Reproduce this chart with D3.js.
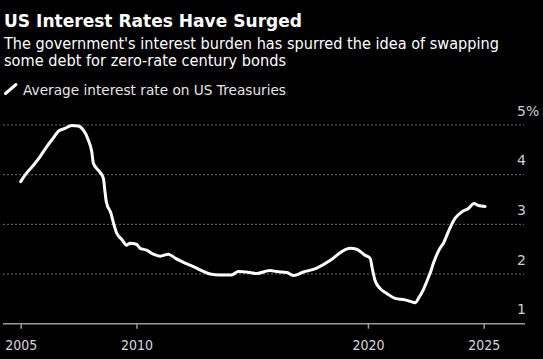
<!DOCTYPE html>
<html>
<head>
<meta charset="utf-8">
<script src="https://cdn.jsdelivr.net/npm/d3@7"></script>
<style>
  html, body { margin: 0; padding: 0; background: #000; }
  svg { display: block; }
  text { font-family: "DejaVu Sans", Verdana, sans-serif; }
</style>
</head>
<body>
<svg id="chart" width="543" height="359"></svg>
<script>
const title = "US Interest Rates Have Surged";
const subtitleLines = ["The government's interest burden has spurred the idea of swapping",
                       "some debt for zero-rate century bonds"];
const legendLabel = "Average interest rate on US Treasuries";

const years = [2005.0, 2005.25, 2005.55, 2005.83, 2006.12, 2006.41, 2006.62, 2006.91, 2007.2, 2007.49,
  2007.7, 2007.92, 2008.07, 2008.14, 2008.35, 2008.57, 2008.64, 2008.7, 2008.9, 2009.03,
  2009.15, 2009.36, 2009.58, 2009.72, 2010.0, 2010.15, 2010.44, 2010.73, 2011.02, 2011.38,
  2011.67, 2012.1, 2012.46, 2012.82, 2013.18, 2013.61, 2014.11, 2014.4, 2014.9, 2015.19,
  2015.77, 2016.06, 2016.5, 2016.78, 2017.21, 2017.79, 2018.36, 2018.87, 2019.22, 2019.51,
  2019.87, 2020.09, 2020.2, 2020.3, 2020.52, 2020.81, 2021.17, 2021.6, 2021.96, 2022.05,
  2022.18, 2022.39, 2022.54, 2022.68, 2022.83, 2023.11, 2023.26, 2023.47, 2023.76, 2024.05,
  2024.34, 2024.58, 2024.77, 2025.06];
const rates = [3.86, 4.03, 4.19, 4.36, 4.56, 4.74, 4.87, 4.93, 4.99, 4.98,
  4.90, 4.70, 4.46, 4.23, 4.09, 3.93, 3.66, 3.45, 3.22, 2.99,
  2.82, 2.70, 2.58, 2.62, 2.60, 2.52, 2.48, 2.40, 2.36, 2.40,
  2.32, 2.22, 2.15, 2.07, 2.00, 1.98, 1.98, 2.05, 2.03, 2.01,
  2.07, 2.05, 2.03, 1.97, 2.04, 2.12, 2.27, 2.45, 2.52, 2.50,
  2.38, 2.32, 2.08, 1.88, 1.71, 1.61, 1.51, 1.48, 1.43, 1.42,
  1.51, 1.68, 1.85, 2.01, 2.22, 2.52, 2.62, 2.85, 3.12, 3.25,
  3.32, 3.42, 3.38, 3.36];

const xTicks = [2005, 2010, 2020, 2025];
const yTicks = [1, 2, 3, 4, 5];
const yTickLabels = ["1", "2", "3", "4", "5%"];

const svg = d3.select("#chart");

const x = d3.scaleLinear().domain([2005, 2025]).range([20.7, 483.7]);
const y = d3.scaleLinear().domain([1, 5]).range([323.7, 125]);

// Title block
svg.append("text").attr("x", 4).attr("y", 27)
  .attr("fill", "#fff").attr("font-weight", "bold").attr("font-size", 17.5)
  .attr("textLength", 298).attr("lengthAdjust", "spacingAndGlyphs")
  .text(title);
svg.append("text").attr("x", 4).attr("y", 48.5)
  .attr("fill", "#fff").attr("font-size", 15)
  .attr("textLength", 495).attr("lengthAdjust", "spacingAndGlyphs")
  .text(subtitleLines[0]);
svg.append("text").attr("x", 4).attr("y", 65.5)
  .attr("fill", "#fff").attr("font-size", 15)
  .attr("textLength", 282).attr("lengthAdjust", "spacingAndGlyphs")
  .text(subtitleLines[1]);

// Legend
svg.append("line").attr("x1", 5.5).attr("y1", 93.5).attr("x2", 16).attr("y2", 84.5)
  .attr("stroke", "#fff").attr("stroke-width", 3).attr("stroke-linecap", "round");
svg.append("text").attr("x", 23).attr("y", 94.5)
  .attr("fill", "#e6e6e6").attr("font-size", 13.5)
  .attr("textLength", 263).attr("lengthAdjust", "spacingAndGlyphs")
  .text(legendLabel);

// Gridlines
svg.append("g").selectAll("line").data(yTicks.filter(d => d > 1)).join("line")
  .attr("x1", 3).attr("x2", 524)
  .attr("y1", d => y(d)).attr("y2", d => y(d))
  .attr("stroke", "#6e6e6e").attr("stroke-width", 1)
  .attr("stroke-dasharray", "2,2");

// Y labels
svg.append("g").selectAll("text").data(yTicks).join("text")
  .attr("x", 517).attr("y", d => y(d) - 9.5)
  .attr("fill", "#cfcfcf").attr("font-size", 14)
  .text((d, i) => yTickLabels[i]);

// X axis
const xAxis = d3.axisBottom(x).tickValues(xTicks).tickFormat(d3.format("d"))
  .tickSize(5).tickSizeOuter(0);
const gx = svg.append("g").attr("transform", `translate(0,${y(1)})`).call(xAxis);
gx.select(".domain").remove();
gx.insert("line", ":first-child").attr("x1", 3).attr("x2", 525).attr("y1", 0).attr("y2", 0)
  .attr("stroke", "#9a9a9a").attr("stroke-width", 1.5);
gx.selectAll(".tick line").attr("stroke", "#9a9a9a").attr("stroke-width", 1.5);
gx.selectAll(".tick text").attr("fill", "#d8d8d8").attr("font-size", 14)
  .attr("font-family", "\"DejaVu Sans\", sans-serif").attr("dy", null).attr("y", 26)
  .attr("textLength", 32).attr("lengthAdjust", "spacingAndGlyphs");

// Line
const data = years.map((yr, i) => ({ t: yr, v: rates[i] }));
const line = d3.line().x(d => x(d.t)).y(d => y(d.v)).curve(d3.curveMonotoneX);
svg.append("path").datum(data).attr("d", line)
  .attr("fill", "none").attr("stroke", "#fff").attr("stroke-width", 3)
  .attr("stroke-linejoin", "round").attr("stroke-linecap", "round");
</script>
</body>
</html>
